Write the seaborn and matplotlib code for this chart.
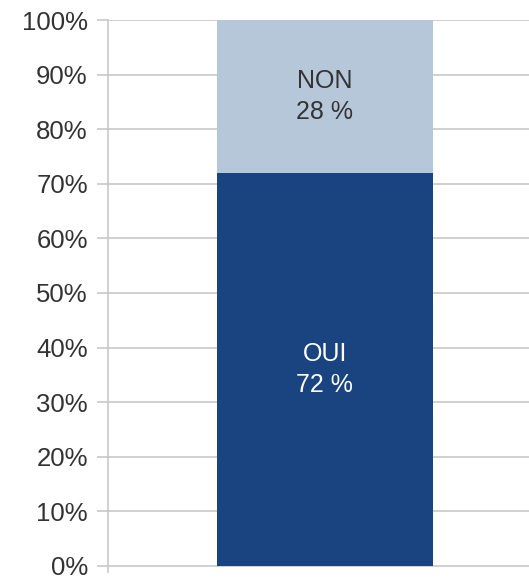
import matplotlib
matplotlib.use("Agg")
import matplotlib.pyplot as plt
import seaborn as sns
import pandas as pd

categories = [""]
oui = [72]
non = [28]
labels = ["OUI", "NON"]
colors = ["#1a4480", "#b6c7da"]

sns.set_theme(style="white")
plt.rcParams['font.family'] = ['Liberation Sans', 'DejaVu Sans']

fig = plt.figure(figsize=(5.29, 5.78), dpi=100)
# axes spans from y=20 px (100%) down to y=572 px (slightly below 0%)
ax = fig.add_axes([108/529, 6/578, 1 - 108/529, (572 - 20)/578])

total = [o + n for o, n in zip(oui, non)]
df_total = pd.DataFrame({"cat": categories, "val": total})
df_oui = pd.DataFrame({"cat": categories, "val": oui})

ax.set_axisbelow(True)
ax.yaxis.grid(True, color="#c8c8c8", linewidth=1.2)
sns.barplot(data=df_total, x="cat", y="val", color=colors[1], saturation=1,
            width=0.513, ax=ax, zorder=2, linewidth=0)
sns.barplot(data=df_oui, x="cat", y="val", color=colors[0], saturation=1,
            width=0.513, ax=ax, zorder=3, linewidth=0)

ax.set_xlim(-0.515, 0.485)
ax.set_ylim(-1.1, 100)
ax.set_yticks(range(0, 101, 10))
ax.set_yticklabels([f"{v}%" for v in range(0, 101, 10)], fontsize=18.5, color="#333333")
ax.tick_params(axis="y", length=8, color="#c8c8c8", width=1.2, pad=6.5, left=True)
ax.set_xticks([])
ax.set_xlabel("")
ax.set_ylabel("")
for s in ["top", "right", "bottom"]:
    ax.spines[s].set_visible(False)
ax.spines["left"].set_color("#c8c8c8")
ax.spines["left"].set_linewidth(1.2)

for i in range(len(categories)):
    ax.text(i, oui[i] / 2, f"{labels[0]}\n{oui[i]} %", ha="center", va="center",
            color="white", fontsize=18, linespacing=1.4, zorder=5)
    ax.text(i, oui[i] + non[i] / 2, f"{labels[1]}\n{non[i]} %", ha="center", va="center",
            color="#333333", fontsize=18, linespacing=1.4, zorder=5)

fig.savefig("out.png", dpi=100)
